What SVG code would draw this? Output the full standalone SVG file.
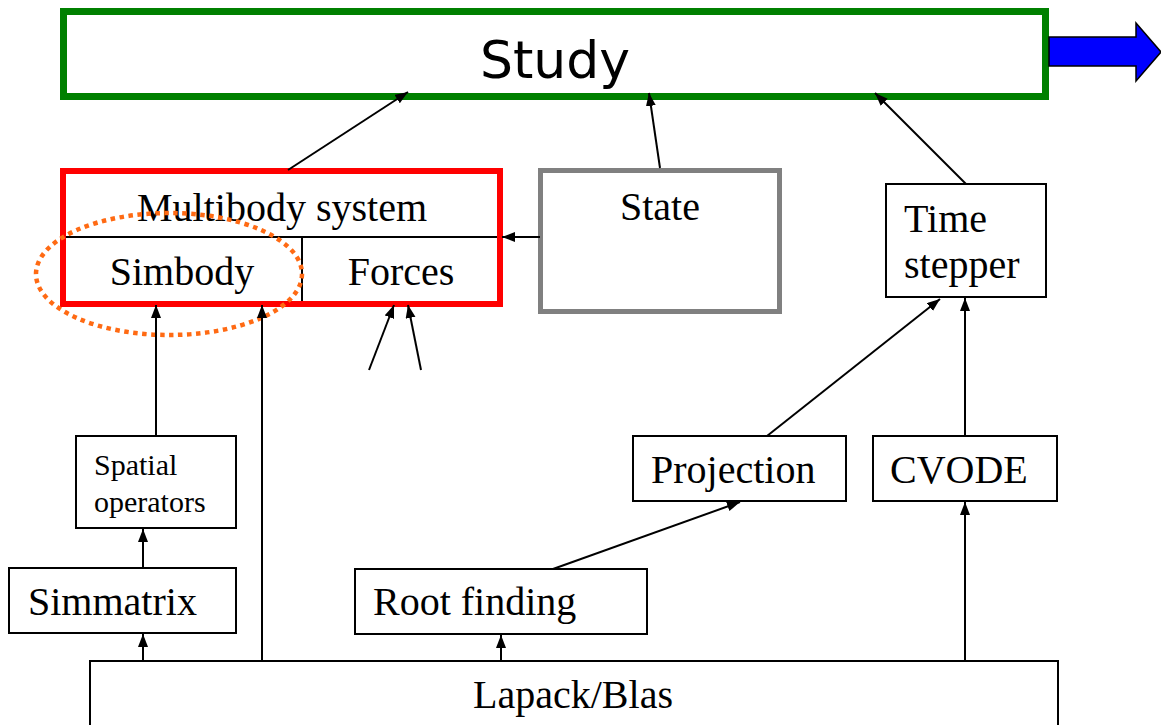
<svg xmlns="http://www.w3.org/2000/svg" width="1161" height="725" viewBox="0 0 1161 725">
<style>
.box{fill:#fff;stroke:#000;stroke-width:2}
.t{font-family:"Liberation Serif","Times New Roman",serif;font-size:40px;fill:#000}
.ts{font-family:"Liberation Serif","Times New Roman",serif;font-size:30px;fill:#000}
.c{fill:none;stroke:#000;stroke-width:2}
</style>
<defs>
<marker id="ah" markerUnits="userSpaceOnUse" markerWidth="14" markerHeight="12" refX="13" refY="5" orient="auto">
<path d="M0,0 L13,5 L0,10 z" fill="#000"/>
</marker>
</defs>
<rect width="1161" height="725" fill="#fff"/>
<g id="study">
<rect x="63.5" y="11.5" width="982" height="85" fill="#fff" stroke="#008000" stroke-width="7"/>
<text x="555" y="78" text-anchor="middle" font-family="'DejaVu Sans',sans-serif" font-size="52">Study</text>
</g>
<g id="output-arrow">
<polygon points="1049,37 1136,37 1136,23 1161,52 1136,81 1136,66 1049,66" fill="#0000ff" stroke="#000" stroke-width="1.5"/>
</g>
<g id="multibody">
<rect x="63" y="171" width="437" height="133" fill="#fff" stroke="#ff0000" stroke-width="6"/>
<line x1="66" y1="237" x2="497" y2="237" stroke="#000" stroke-width="2"/>
<line x1="302" y1="237" x2="302" y2="301" stroke="#000" stroke-width="2"/>
<text class="t" x="282" y="221" text-anchor="middle">Multibody system</text>
<text class="t" x="182" y="285" text-anchor="middle">Simbody</text>
<text class="t" x="401" y="285" text-anchor="middle">Forces</text>
</g>
<g id="simbody-highlight">
<ellipse cx="169" cy="274" rx="133" ry="61" fill="none" stroke="#ff6a13" stroke-width="4.5" stroke-dasharray="4.5 4.5"/>
</g>
<g id="state">
<rect x="540.5" y="170.5" width="239" height="141" fill="#fff" stroke="#808080" stroke-width="5"/>
<text class="t" x="660" y="220" text-anchor="middle">State</text>
</g>
<g id="time-stepper">
<rect class="box" x="886" y="184" width="160" height="113"/>
<text class="t" x="904" y="232">Time</text>
<text class="t" x="904" y="278">stepper</text>
</g>
<g id="spatial-operators">
<rect class="box" x="76" y="436" width="160" height="92"/>
<text class="ts" x="94" y="475">Spatial</text>
<text class="ts" x="94" y="512">operators</text>
</g>
<g id="simmatrix">
<rect class="box" x="9" y="568" width="227" height="65"/>
<text class="t" x="28" y="615">Simmatrix</text>
</g>
<g id="root-finding">
<rect class="box" x="355" y="569" width="292" height="65"/>
<text class="t" x="373" y="615">Root finding</text>
</g>
<g id="projection">
<rect class="box" x="633" y="436" width="213" height="65"/>
<text class="t" x="651" y="483">Projection</text>
</g>
<g id="cvode">
<rect class="box" x="873" y="436" width="184" height="65"/>
<text class="t" x="890" y="483">CVODE</text>
</g>
<g id="lapack">
<rect class="box" x="90" y="661" width="968" height="80"/>
<text class="t" x="573" y="708" text-anchor="middle">Lapack/Blas</text>
</g>
<g id="connectors">
<line class="c" x1="288" y1="170" x2="408" y2="92" marker-end="url(#ah)"/>
<line class="c" x1="660" y1="168" x2="649" y2="93" marker-end="url(#ah)"/>
<line class="c" x1="966" y1="184" x2="875" y2="93" marker-end="url(#ah)"/>
<line class="c" x1="540" y1="237" x2="502" y2="237" marker-end="url(#ah)"/>
<line class="c" x1="156" y1="436" x2="156" y2="305" marker-end="url(#ah)"/>
<line class="c" x1="262" y1="661" x2="262" y2="305" marker-end="url(#ah)"/>
<line class="c" x1="369" y1="370" x2="394" y2="305" marker-end="url(#ah)"/>
<line class="c" x1="421" y1="370" x2="408" y2="305" marker-end="url(#ah)"/>
<line class="c" x1="143" y1="568" x2="143" y2="529" marker-end="url(#ah)"/>
<line class="c" x1="143" y1="661" x2="143" y2="634" marker-end="url(#ah)"/>
<line class="c" x1="501" y1="661" x2="501" y2="635" marker-end="url(#ah)"/>
<line class="c" x1="553" y1="569" x2="740" y2="502" marker-end="url(#ah)"/>
<line class="c" x1="767" y1="436" x2="940" y2="299" marker-end="url(#ah)"/>
<line class="c" x1="965" y1="661" x2="965" y2="502" marker-end="url(#ah)"/>
<line class="c" x1="965" y1="436" x2="965" y2="298" marker-end="url(#ah)"/>
</g>
</svg>
